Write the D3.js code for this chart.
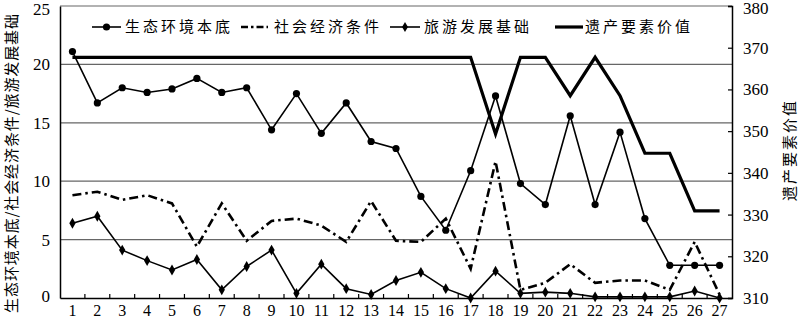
<!DOCTYPE html>
<html>
<head>
<meta charset="utf-8">
<script src="https://cdn.jsdelivr.net/npm/d3@7"></script>
<style>
  body { margin: 0; background: #fff; }
  svg { display: block; }
</style>
</head>
<body>
<div id="plot"></div>
<script>
// data
const categories = d3.range(1, 28).map(String);
const eco = [21.1, 16.7, 18.0, 17.6, 17.9, 18.8, 17.6, 18.0, 14.4, 17.5, 14.1, 16.7, 13.4, 12.8, 8.7, 5.8, 10.9, 17.3, 9.8, 8.0, 15.6, 8.0, 14.2, 6.8, 2.8, 2.8, 2.8];
const soc = [8.8, 9.1, 8.4, 8.8, 8.1, 4.4, 8.1, 4.9, 6.6, 6.8, 6.2, 4.8, 8.3, 4.9, 4.8, 6.8, 2.5, 11.7, 0.7, 1.3, 2.9, 1.3, 1.5, 1.5, 0.7, 4.8, 0.3];
const tour = [6.4, 7.0, 4.1, 3.2, 2.4, 3.3, 0.7, 2.7, 4.1, 0.4, 2.9, 0.8, 0.3, 1.5, 2.2, 0.8, 0.0, 2.3, 0.4, 0.5, 0.4, 0.1, 0.1, 0.1, 0.1, 0.6, 0.0];
const heritage = [367.7, 367.7, 367.7, 367.7, 367.7, 367.7, 367.7, 367.7, 367.7, 367.7, 367.7, 367.7, 367.7, 367.7, 367.7, 367.7, 367.7, 349.3, 367.7, 367.7, 358.5, 367.7, 358.5, 344.7, 344.7, 330.9, 330.9];
const leftTicks = [0, 5, 10, 15, 20, 25];
const rightTicks = [310, 320, 330, 340, 350, 360, 370, 380];
const legendNames = ["生态环境本底", "社会经济条件", "旅游发展基础", "遗产要素价值"];
const leftTitle = "生态环境本底/社会经济条件/旅游发展基础";
const rightTitle = "遗产要素价值";

let W = 800, H = 321;
let margin = {top: 6, right: 68, bottom: 23, left: 60};
let width = W - margin.left - margin.right;
let height = H - margin.top - margin.bottom;

let numFont = "'Liberation Serif', 'Times New Roman', serif";
let cjkFont = "'Noto Sans CJK SC', sans-serif";

let svg = d3.select("#plot")
	.append("svg")
		.attr("width", W)
		.attr("height", H)
	.append("g")
		.attr("transform", "translate(" + margin.left + "," + margin.top + ")");

let x = d3.scaleBand().domain(categories).range([0, width]).padding(0);
let cx = d => x(d) + x.bandwidth() / 2;
let y = d3.scaleLinear().domain([0, 25]).range([height, 0]);
let yR = d3.scaleLinear().domain([310, 380]).range([height, 0]);

// gridlines + top border
svg.selectAll(".grid")
	.data([5, 10, 15, 20, 25])
	.enter()
	.append("line")
		.attr("x1", 0).attr("x2", width)
		.attr("y1", d => y(d)).attr("y2", d => y(d))
		.attr("stroke", "#666")
		.attr("stroke-width", 1.2);

// left axis (no ticks)
let gL = svg.append("g")
	.call(d3.axisLeft(y).tickValues(leftTicks).tickSize(0).tickPadding(10));
gL.select(".domain").attr("stroke", "#000").attr("stroke-width", 1.5);
gL.selectAll("text").attr("font-family", numFont).attr("font-size", 17).attr("fill", "#000")
	.attr("dy", d => d == 25 ? "0.5em" : (d == 0 ? "0.2em" : "0.32em"));

// right axis, inner ticks
let gR = svg.append("g")
	.attr("transform", "translate(" + width + ",0)")
	.call(d3.axisRight(yR).tickValues(rightTicks).tickSize(-4).tickPadding(11));
gR.select(".domain").attr("stroke", "#000").attr("stroke-width", 1.5);
gR.selectAll("line").attr("stroke", "#000").attr("stroke-width", 1.2);
gR.selectAll("text").attr("font-family", numFont).attr("font-size", 17).attr("fill", "#000")
	.attr("dy", d => d == 380 ? "0.45em" : "0.32em");

// bottom axis, labels at band centres, ticks at band edges
let gB = svg.append("g")
	.attr("transform", "translate(0," + height + ")")
	.call(d3.axisBottom(x).tickSize(0).tickPadding(7));
gB.select(".domain").attr("stroke", "#000").attr("stroke-width", 1.5);
gB.selectAll("text").attr("font-family", numFont).attr("font-size", 16).attr("fill", "#000");
svg.selectAll(".xtick")
	.data(categories.slice(1))
	.enter()
	.append("line")
		.attr("x1", d => x(d)).attr("x2", d => x(d))
		.attr("y1", height).attr("y2", height - 4)
		.attr("stroke", "#000")
		.attr("stroke-width", 1.2);

// lines
let lineL = d3.line().x((d, i) => cx(categories[i])).y(d => y(d));
let lineR = d3.line().x((d, i) => cx(categories[i])).y(d => yR(d));

svg.append("path").datum(soc).attr("d", lineL)
	.attr("fill", "none").attr("stroke", "#000").attr("stroke-width", 2.6)
	.attr("stroke-dasharray", "9,4,2.5,4");

svg.append("path").datum(tour).attr("d", lineL)
	.attr("fill", "none").attr("stroke", "#000").attr("stroke-width", 1.6);

svg.append("path").datum(eco).attr("d", lineL)
	.attr("fill", "none").attr("stroke", "#000").attr("stroke-width", 1.6);

svg.append("path").datum(heritage).attr("d", lineR)
	.attr("fill", "none").attr("stroke", "#000").attr("stroke-width", 3.2)
	.attr("stroke-linejoin", "miter");

// markers
svg.selectAll(".dot")
	.data(eco)
	.enter()
	.append("circle")
		.attr("cx", (d, i) => cx(categories[i]))
		.attr("cy", d => y(d))
		.attr("r", 3.6)
		.style("fill", "#000");

svg.selectAll(".dia")
	.data(tour)
	.enter()
	.append("path")
		.attr("d", d3.symbol().type(d3.symbolDiamond).size(34))
		.attr("transform", (d, i) => "translate(" + cx(categories[i]) + "," + y(d) + ")")
		.style("fill", "#000");

// legend
let leg = svg.append("g").attr("transform", "translate(0,21)");
let legItems = [
	{x0: 32, x1: 61, text: 65, name: legendNames[0], type: "dot"},
	{x0: 181, x1: 208, text: 214, name: legendNames[1], type: "dash"},
	{x0: 330, x1: 360, text: 364, name: legendNames[2], type: "dia"},
	{x0: 495, x1: 523, text: 525, name: legendNames[3], type: "thick"}
];
legItems.forEach(it => {
	let ln = leg.append("line")
		.attr("x1", it.x0).attr("x2", it.x1)
		.attr("y1", 0).attr("y2", 0)
		.attr("stroke", "#000");
	if (it.type == "dash") ln.attr("stroke-width", 2.6).attr("stroke-dasharray", "7,3,2.5,3");
	else if (it.type == "thick") ln.attr("stroke-width", 3.2);
	else ln.attr("stroke-width", 1.6);
	if (it.type == "dot") {
		leg.append("circle").attr("cx", (it.x0 + it.x1) / 2).attr("cy", 0).attr("r", 3.6).style("fill", "#000");
	}
	if (it.type == "dia") {
		leg.append("path")
			.attr("d", d3.symbol().type(d3.symbolDiamond).size(30))
			.attr("transform", "translate(" + (it.x0 + 15) + ",0)")
			.style("fill", "#000");
	}
	leg.append("text")
		.attr("x", it.text)
		.attr("y", 0)
		.attr("dy", "0.36em")
		.attr("font-family", cjkFont)
		.attr("font-size", 15)
		.attr("letter-spacing", 3)
		.text(it.name);
});

// axis titles
svg.append("text")
	.attr("transform", "translate(" + (-48) + "," + 157 + ") rotate(-90)")
	.attr("text-anchor", "middle")
	.attr("dy", "0.35em")
	.attr("font-family", cjkFont)
	.attr("font-size", 15)
	.attr("letter-spacing", 0.9)
	.text(leftTitle);

svg.append("text")
	.attr("transform", "translate(" + (width + 58) + "," + 144 + ") rotate(-90)")
	.attr("text-anchor", "middle")
	.attr("dy", "0.35em")
	.attr("font-family", cjkFont)
	.attr("font-size", 15)
	.attr("letter-spacing", 2)
	.text(rightTitle);
</script>
</body>
</html>
